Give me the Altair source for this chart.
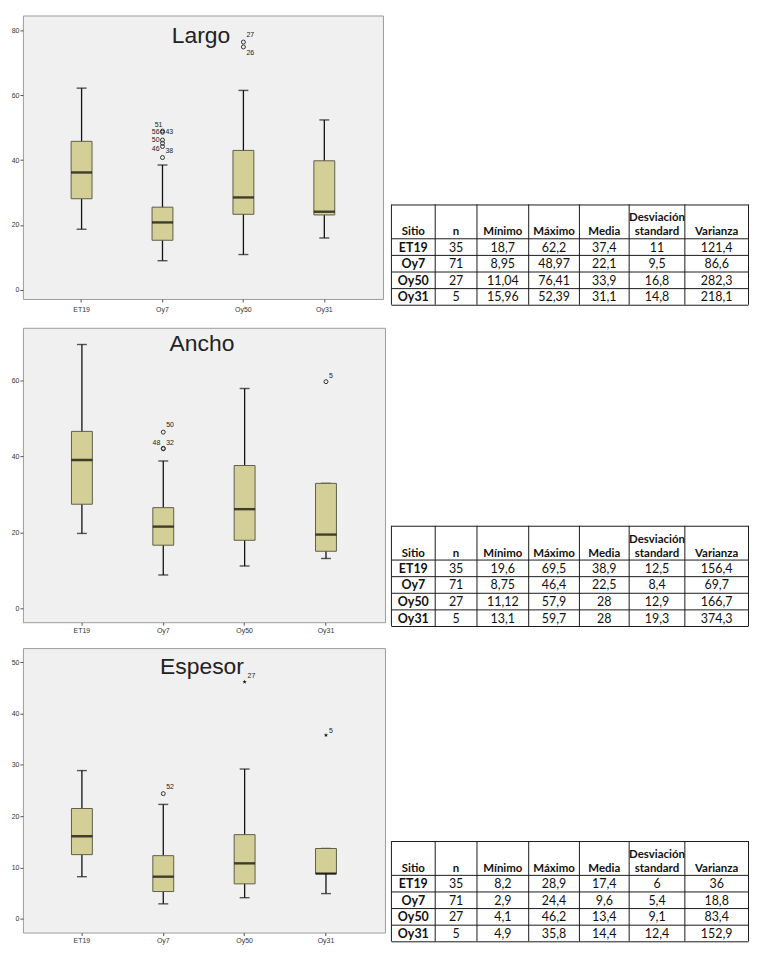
import altair as alt
import pandas as pd

SITES = ["ET19", "Oy7", "Oy50", "Oy31"]

# ---------------- Largo (box-plot summary) ----------------
largo_low = [18.7, 9.0, 10.9, 16.0]
largo_q1 = [28.1, 15.3, 23.3, 23.1]
largo_med = [36.2, 20.8, 28.5, 24.1]
largo_q3 = [45.8, 25.5, 43.0, 39.8]
largo_high = [62.2, 38.5, 61.5, 52.4]
largo_out_site = ["Oy7", "Oy7", "Oy7", "Oy7", "Oy7", "Oy7", "Oy50", "Oy50"]
largo_out_val = [40.8, 44.2, 45.2, 46.2, 48.6, 48.97, 74.9, 76.41]
largo_ext_site = []
largo_ext_val = []
largo_lab_right = [("Oy7", 48.6, "43"), ("Oy7", 42.9, "38"), ("Oy50", 78.5, "27"), ("Oy50", 72.9, "26")]
largo_lab_left = [("Oy7", 48.6, "56"), ("Oy7", 46.1, "50"), ("Oy7", 43.3, "46")]
largo_lab_top = [("Oy7", 50.8, "51")]

# ---------------- Ancho ----------------
ancho_low = [19.7, 8.75, 11.12, 13.1]
ancho_q1 = [27.4, 16.6, 17.9, 15.0]
ancho_med = [39.05, 21.5, 26.1, 19.4]
ancho_q3 = [46.6, 26.5, 37.6, 32.9]
ancho_high = [69.5, 38.8, 57.9, 32.9]
ancho_out_site = ["Oy7", "Oy7", "Oy7", "Oy31"]
ancho_out_val = [46.4, 42.0, 42.15, 59.7]
ancho_ext_site = []
ancho_ext_val = []
ancho_lab_right = [("Oy7", 48.2, "50"), ("Oy7", 43.6, "32"), ("Oy31", 61.1, "5")]
ancho_lab_left = [("Oy7", 43.6, "48")]
ancho_lab_top = []

# ---------------- Espesor ----------------
esp_low = [8.2, 2.9, 4.1, 4.9]
esp_q1 = [12.5, 5.3, 6.8, 8.8]
esp_med = [16.1, 8.2, 10.8, 8.8]
esp_q3 = [21.5, 12.3, 16.4, 13.7]
esp_high = [28.9, 22.3, 29.2, 13.7]
esp_out_site = ["Oy7"]
esp_out_val = [24.4]
esp_ext_site = ["Oy50", "Oy31"]
esp_ext_val = [46.2, 35.8]
esp_lab_right = [("Oy7", 25.6, "52"), ("Oy50", 47.4, "27"), ("Oy31", 36.7, "5")]
esp_lab_left = []
esp_lab_top = []

# ---------------- Tables ----------------
HEAD_TOP = ["", "", "", "", "", "Desviación", ""]
HEAD_BOT = ["Sitio", "n", "Mínimo", "Máximo", "Media", "standard", "Varianza"]
N = [35, 71, 27, 5]
largo_min = [18.7, 8.95, 11.04, 15.96]
largo_max = [62.2, 48.97, 76.41, 52.39]
largo_mean = [37.4, 22.1, 33.9, 31.1]
largo_sd = [11, 9.5, 16.8, 14.8]
largo_var = [121.4, 86.6, 282.3, 218.1]
ancho_min = [19.6, 8.75, 11.12, 13.1]
ancho_max = [69.5, 46.4, 57.9, 59.7]
ancho_mean = [38.9, 22.5, 28, 28]
ancho_sd = [12.5, 8.4, 12.9, 19.3]
ancho_var = [156.4, 69.7, 166.7, 374.3]
esp_min = [8.2, 2.9, 4.1, 4.9]
esp_max = [28.9, 24.4, 46.2, 35.8]
esp_mean = [17.4, 9.6, 13.4, 14.4]
esp_sd = [6, 5.4, 9.1, 12.4]
esp_var = [36, 18.8, 83.4, 152.9]

# ---------------- styling ----------------
BOX_FILL = "#d4cf96"
BOX_STROKE = "#5f5e4a"
PANEL_BG = "#f0f0f0"
FRAME = "#9c9c9c"
STAR = "M0,-1L0.2245,-0.309L0.951,-0.309L0.363,0.118L0.588,0.809L0,0.382L-0.588,0.809L-0.363,0.118L-0.951,-0.309L-0.2245,-0.309Z"
EMPTY = {"site": [], "v": [], "t": []}


def box_panel(title, low, q1, med, q3, high, out_site, out_val, ext_site, ext_val,
              lab_right, lab_left, lab_top, domain, ticks, width, height, extent, title_y, xpad):
    summ = pd.DataFrame({"site": SITES, "low": low, "q1": q1, "med": med, "q3": q3, "high": high})
    outs = pd.DataFrame({"site": out_site, "v": out_val})
    exts = pd.DataFrame({"site": ext_site, "v": ext_val})
    lr = pd.DataFrame(lab_right, columns=["site", "v", "t"]) if lab_right else pd.DataFrame(EMPTY)
    ll = pd.DataFrame(lab_left, columns=["site", "v", "t"]) if lab_left else pd.DataFrame(EMPTY)
    lt = pd.DataFrame(lab_top, columns=["site", "v", "t"]) if lab_top else pd.DataFrame(EMPTY)

    x = alt.X("site:N", sort=SITES,
              scale=alt.Scale(domain=SITES, paddingInner=0, paddingOuter=0.225),
              axis=alt.Axis(title=None, labelAngle=0, tickSize=3, labelPadding=xpad, labelFontSize=7,
                            labelColor="#333", tickColor="#555", domain=False, grid=False))
    yscale = alt.Scale(domain=domain, nice=False, zero=False)
    yaxis = alt.Axis(title=None, values=ticks, format="d", tickSize=3, labelPadding=1, labelFontSize=7,
                     labelColor="#333", tickColor="#555", domain=False, grid=False,
                     minExtent=extent, maxExtent=extent)

    base = alt.Chart(summ)
    whisk = base.mark_rule(color="#111", strokeWidth=1.3).encode(
        x=x, y=alt.Y("low:Q", scale=yscale, axis=yaxis), y2="high:Q")
    cap_lo = base.mark_tick(color="#111", size=10, thickness=1.4, orient="horizontal").encode(x=x, y="low:Q")
    cap_hi = base.mark_tick(color="#111", size=10, thickness=1.4, orient="horizontal").encode(x=x, y="high:Q")
    box = base.mark_bar(size=21, fill=BOX_FILL, stroke=BOX_STROKE, strokeWidth=1).encode(
        x=x, y="q1:Q", y2="q3:Q")
    med_t = base.mark_tick(color="#000", size=21, thickness=2.4, orient="horizontal").encode(x=x, y="med:Q")
    layers = [whisk, cap_lo, cap_hi, box, med_t]
    if len(outs):
        layers.append(alt.Chart(outs).mark_point(shape="circle", filled=False, size=16, color="#333",
                                                 strokeWidth=1, opacity=1).encode(x=x, y="v:Q"))
    if len(exts):
        layers.append(alt.Chart(exts).mark_point(shape=STAR, filled=True, size=22, color="#111",
                                                 opacity=1).encode(x=x, y="v:Q"))
    if len(lr):
        layers.append(alt.Chart(lr).mark_text(align="left", baseline="middle", dx=3, fontSize=7,
                                              color="#222").encode(x=x, y="v:Q", text="t:N"))
    if len(ll):
        layers.append(alt.Chart(ll).mark_text(align="right", baseline="middle", dx=-3, fontSize=7,
                                              color="#222").encode(x=x, y="v:Q", text="t:N"))
    if len(lt):
        layers.append(alt.Chart(lt).mark_text(align="center", baseline="middle", dx=-4, fontSize=7,
                                              color="#222").encode(x=x, y="v:Q", text="t:N"))
    tdf = pd.DataFrame({"t": [title]})
    layers.append(alt.Chart(tdf).mark_text(fontSize=23, color="#222", baseline="middle",
                                           align="center", font="Liberation Sans").encode(
        x=alt.value(width / 2 - 2), y=alt.value(title_y), text="t:N"))
    return alt.layer(*layers).properties(
        width=width, height=height,
        view=alt.ViewBackground(fill=PANEL_BG, stroke=FRAME, strokeWidth=1))


p1 = box_panel("Largo", largo_low, largo_q1, largo_med, largo_q3, largo_high,
               largo_out_site, largo_out_val, largo_ext_site, largo_ext_val,
               largo_lab_right, largo_lab_left, largo_lab_top,
               [-2.8, 84.6], [0, 20, 40, 60, 80], 362, 285, 14, 21, 4)
p2 = box_panel("Ancho", ancho_low, ancho_q1, ancho_med, ancho_q3, ancho_high,
               ancho_out_site, ancho_out_val, ancho_ext_site, ancho_ext_val,
               ancho_lab_right, ancho_lab_left, ancho_lab_top,
               [-3.7, 73.9], [0, 20, 40, 60], 364, 296, 12, 16, 1)
p3 = box_panel("Espesor", esp_low, esp_q1, esp_med, esp_q3, esp_high,
               esp_out_site, esp_out_val, esp_ext_site, esp_ext_val,
               esp_lab_right, esp_lab_left, esp_lab_top,
               [-2.7, 52.8], [0, 10, 20, 30, 40, 50], 364, 286, 12, 19, 1)

# ---------------- table chart ----------------
COLW = [44, 42, 52, 51, 50, 56, 64]
HEAD_H = 34
ROW_H = 16.7
TABLE_TOPS = [190, 513, 830]
TW = 360
TH = 932


def fmt(v):
    return f"{v:g}".replace(".", ",")


edges = [0.5]
for w in COLW:
    edges.append(edges[-1] + w)
centers = [(edges[i] + edges[i + 1]) / 2 for i in range(len(COLW))]

hl, vl, head_b, head_t, body_b, body_n = [], [], [], [], [], []
tables = [
    (largo_min, largo_max, largo_mean, largo_sd, largo_var),
    (ancho_min, ancho_max, ancho_mean, ancho_sd, ancho_var),
    (esp_min, esp_max, esp_mean, esp_sd, esp_var),
]
for top, (mn, mx, me, sd, va) in zip(TABLE_TOPS, tables):
    ys = [top, top + HEAD_H] + [top + HEAD_H + ROW_H * (k + 1) for k in range(len(SITES))]
    bottom = ys[-1]
    for yv in ys:
        hl.append({"x1": edges[0], "x2": edges[-1], "y": yv + 0.5})
    for xv in edges:
        vl.append({"x": xv, "y1": top, "y2": bottom})
    for c in range(len(COLW)):
        head_b.append({"x": centers[c], "y": top + HEAD_H - 3, "t": HEAD_BOT[c]})
        if HEAD_TOP[c]:
            head_t.append({"x": centers[c], "y": top + HEAD_H - 17, "t": HEAD_TOP[c]})
    for r, s in enumerate(SITES):
        yc = top + HEAD_H + ROW_H * r + ROW_H / 2 + 1
        body_b.append({"x": centers[0], "y": yc, "t": s})
        vals = [str(N[r]), fmt(mn[r]), fmt(mx[r]), fmt(me[r]), fmt(sd[r]), fmt(va[r])]
        for c, t in enumerate(vals, start=1):
            body_n.append({"x": centers[c], "y": yc, "t": t})

tx = alt.Scale(domain=[0, TW], nice=False, zero=False)
ty = alt.Scale(domain=[0, TH], nice=False, zero=False, reverse=True)
TFONT = "Lato"
XE = alt.X("x:Q", scale=tx, axis=None)
YE = alt.Y("y:Q", scale=ty, axis=None)

t_h = alt.Chart(pd.DataFrame(hl)).mark_rule(color="#1a1a1a", strokeWidth=1).encode(
    x=alt.X("x1:Q", scale=tx, axis=None), x2="x2:Q", y=YE)
t_v = alt.Chart(pd.DataFrame(vl)).mark_rule(color="#1a1a1a", strokeWidth=1).encode(
    x=XE, y=alt.Y("y1:Q", scale=ty, axis=None), y2="y2:Q")
t_hb = alt.Chart(pd.DataFrame(head_b)).mark_text(font=TFONT, fontSize=11.5, fontWeight="bold",
                                                 baseline="alphabetic", color="#111").encode(
    x=XE, y=YE, text="t:N")
t_ht = alt.Chart(pd.DataFrame(head_t)).mark_text(font=TFONT, fontSize=11.5, fontWeight="bold",
                                                 baseline="alphabetic", color="#111").encode(
    x=XE, y=YE, text="t:N")
t_bb = alt.Chart(pd.DataFrame(body_b)).mark_text(font=TFONT, fontSize=12.5, fontWeight="bold",
                                                 baseline="middle", color="#111").encode(
    x=XE, y=YE, text="t:N")
t_bn = alt.Chart(pd.DataFrame(body_n)).mark_text(font=TFONT, fontSize=12.5,
                                                 baseline="middle", color="#111").encode(
    x=XE, y=YE, text="t:N")

table_chart = alt.layer(t_h, t_v, t_hb, t_ht, t_bb, t_bn).properties(
    width=TW, height=TH, view=alt.ViewBackground(fill="transparent", stroke="transparent"))

left = alt.vconcat(p1, p2, p3, spacing=13)
chart = alt.hconcat(left, table_chart, spacing=4).properties(
    padding={"top": 4, "left": 0, "right": 0, "bottom": 0},
    background="white",
).configure(font="Liberation Sans")

chart.save("out.html", embed_options={"renderer": "svg", "actions": False})
